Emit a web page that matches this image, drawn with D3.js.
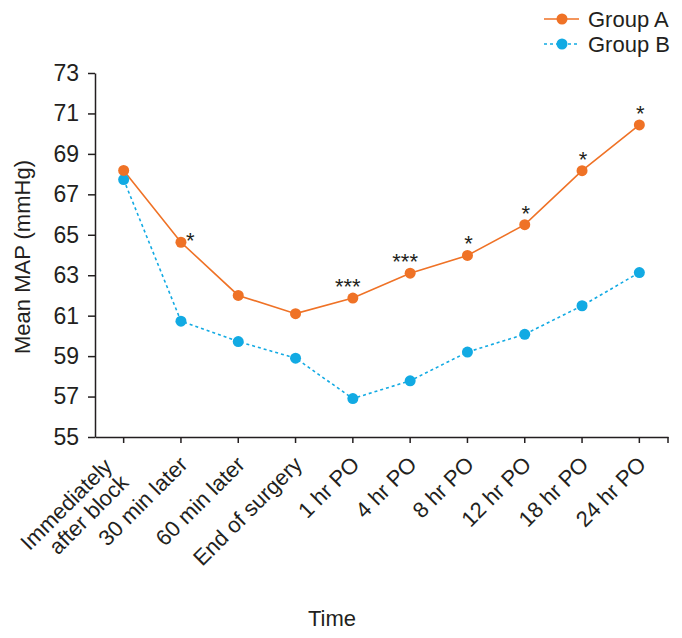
<!DOCTYPE html>
<html><head><meta charset="utf-8">
<script src="https://cdn.jsdelivr.net/npm/d3@7"></script>
<style>body{margin:0;background:#fff}svg{display:block}text{font-family:"Liberation Sans",Arial,sans-serif;fill:#231f20}</style>
</head><body><svg id="c" width="682" height="638"></svg>
<script>
const categories = [["Immediately","after block"],["30 min later"],["60 min later"],["End of surgery"],["1 hr PO"],["4 hr PO"],["8 hr PO"],["12 hr PO"],["18 hr PO"],["24 hr PO"]];
const groupA = [68.18, 64.63, 62.0, 61.1, 61.87, 63.1, 63.98, 65.5, 68.17, 70.43];
const groupB = [67.73, 60.73, 59.72, 58.9, 56.9, 57.78, 59.2, 60.08, 61.49, 63.13];
const stars = ["", "*", "", "", "***", "***", "*", "*", "*", "*"];
const yTicks = [55,57,59,61,63,65,67,69,71,73];
const seriesNames = ["Group A","Group B"];
const colors = ["#ef7226","#12aae3"];

const svg = d3.select("#c");
const x = d3.scaleBand().domain(d3.range(categories.length)).range([95,668]);
const cx = i => x(i) + x.bandwidth()/2;
const y = d3.scaleLinear().domain([55,73]).range([437,73]);
const axColor = "#231f20";

// y axis
const ya = svg.append("g").attr("transform","translate(95,0)")
  .call(d3.axisLeft(y).tickValues(yTicks).tickSize(7).tickSizeOuter(0).tickPadding(9));
ya.select(".domain").attr("stroke",axColor).attr("stroke-width",1.5);
ya.selectAll(".tick line").attr("stroke",axColor).attr("stroke-width",1.5);
ya.selectAll(".tick text").attr("font-size",23).attr("font-family","Liberation Sans, Arial").attr("fill",axColor);

// x axis
const xa = svg.append("g").attr("transform","translate(0,437)")
  .call(d3.axisBottom(x).tickSize(6).tickSizeOuter(0).tickFormat(""));
xa.select(".domain").attr("stroke",axColor).attr("stroke-width",1.5);
xa.selectAll(".tick line").attr("stroke",axColor).attr("stroke-width",1.5);
xa.append("line").attr("x1",x.range()[1]).attr("x2",x.range()[1]).attr("y1",0).attr("y2",6).attr("stroke",axColor).attr("stroke-width",1.5);

// x labels
const xl = svg.append("g");
categories.forEach((lines,i)=>{
  const multi = lines.length > 1;
  const t = xl.append("text").attr("transform",`translate(${cx(i)-3},455) rotate(-45)`)
    .attr("text-anchor","end").attr("font-size",22);
  lines.forEach((ln,j)=>{
    t.append("tspan").attr("x", multi ? -14 : 0)
      .attr("dy", j===0 ? (0.7 - (lines.length-1)*0.525)+"em" : "1.05em").text(ln);
  });
});

// lines
const line = d3.line().x((d,i)=>cx(i)).y(d=>y(d));
svg.append("path").datum(groupB).attr("d",line).attr("fill","none").attr("stroke",colors[1]).attr("stroke-width",1.6).attr("stroke-dasharray","3,3");
svg.append("path").datum(groupA).attr("d",line).attr("fill","none").attr("stroke",colors[0]).attr("stroke-width",1.6);
svg.selectAll(".pb").data(groupB).enter().append("circle").attr("cx",(d,i)=>cx(i)).attr("cy",d=>y(d)).attr("r",5.5).attr("fill",colors[1]);
svg.selectAll(".pa").data(groupA).enter().append("circle").attr("cx",(d,i)=>cx(i)).attr("cy",d=>y(d)).attr("r",5.5).attr("fill",colors[0]);

// stars
stars.forEach((s,i)=>{
  if(!s) return;
  const isFirst = i===1;
  const dx = isFirst ? 5 : (s.length===1 ? 1 : -5);
  const ty = isFirst ? y(groupA[i]) + 6 : y(groupA[i]) - 4;
  svg.append("text").attr("x",cx(i)+dx).attr("y",ty).attr("text-anchor",isFirst?"start":"middle").attr("font-size",22).text(s);
});

// axis titles
svg.append("text").attr("transform","translate(22,257) rotate(-90)").attr("text-anchor","middle").attr("dy","0.35em").attr("font-size",22).text("Mean MAP (mmHg)");
svg.append("text").attr("x",332).attr("y",626).attr("text-anchor","middle").attr("font-size",22).text("Time");

// legend
const lg = svg.append("g");
seriesNames.forEach((n,i)=>{
  const ly = 19 + i*25;
  lg.append("line").attr("x1",544).attr("x2",579).attr("y1",ly).attr("y2",ly).attr("stroke",colors[i]).attr("stroke-width",1.6).attr("stroke-dasharray", i===1?"3,3":null);
  lg.append("circle").attr("cx",562).attr("cy",ly).attr("r",5.5).attr("fill",colors[i]);
  lg.append("text").attr("x",588).attr("y",ly+8).attr("font-size",22).text(n);
});
</script></body></html>
